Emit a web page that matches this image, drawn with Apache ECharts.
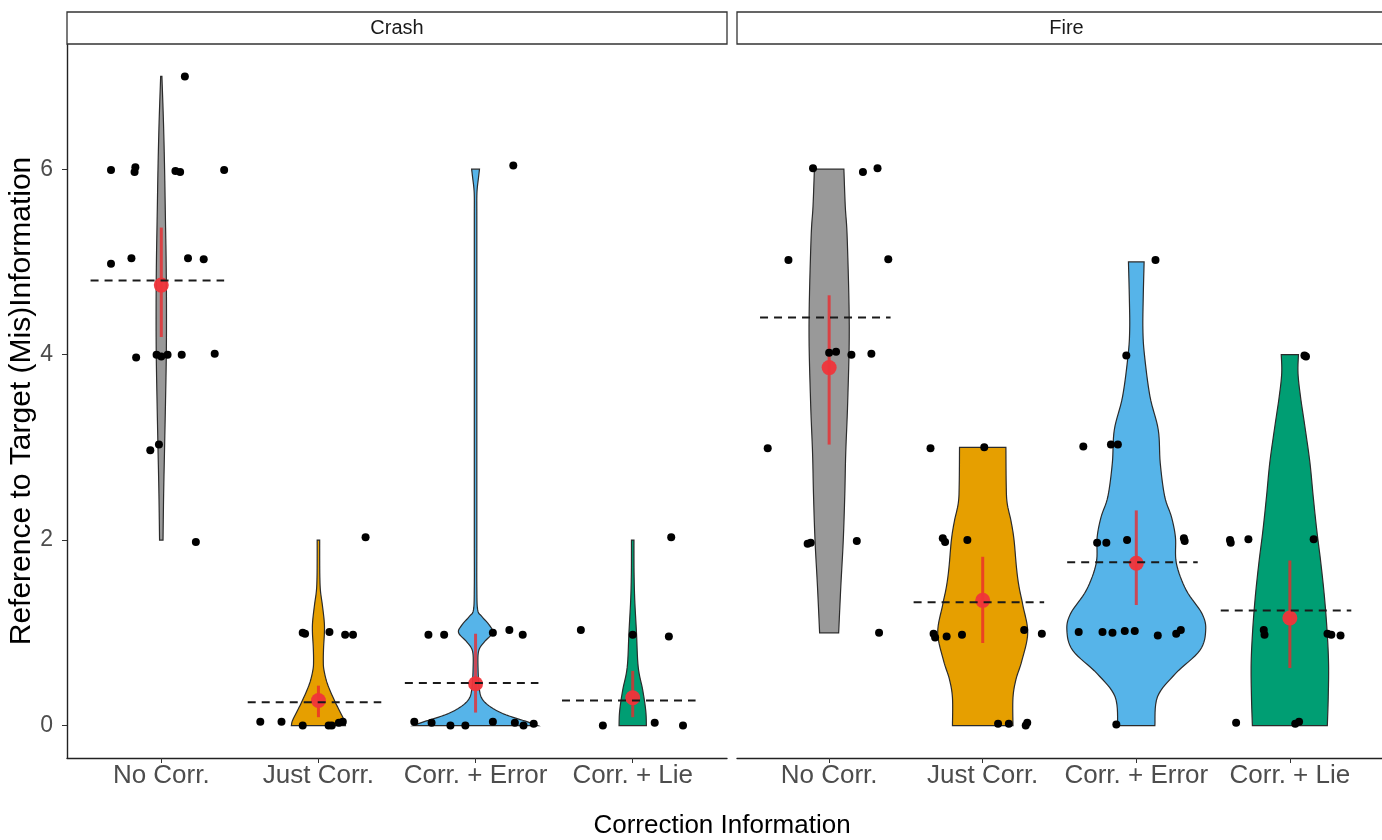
<!DOCTYPE html>
<html>
<head>
<meta charset="utf-8">
<script src="https://cdn.jsdelivr.net/npm/echarts@6/dist/echarts.min.js"></script>
<style>
html,body{margin:0;padding:0;background:#fff;}
#chart{width:1382px;height:840px;}
</style>
</head>
<body>
<div id="chart"></div>
<script>
// ---------------- DATA ----------------
const categories = ['No Corr.', 'Just Corr.', 'Corr. + Error', 'Corr. + Lie'];
const panels = ['Crash', 'Fire'];
const yTicks = [0, 2, 4, 6];
const xTitle = 'Correction Information';
const yTitle = 'Reference to Target (Mis)Information';

// jittered raw responses: [x offset from category centre (category units), value]
const crashNoCorrPts = [[0.15,7.0],[-0.32,5.99],[-0.165,6.02],[-0.17,5.97],[0.09,5.98],[0.12,5.97],[0.40,5.99],[-0.32,4.98],[-0.19,5.04],[0.17,5.04],[0.27,5.03],[-0.16,3.97],[-0.03,4.0],[0.0,3.98],[0.04,4.0],[0.13,4.0],[0.34,4.01],[-0.07,2.97],[-0.015,3.03],[0.22,1.98]];
const crashJustPts = [[0.30,2.03],[-0.10,1.0],[-0.085,0.99],[0.07,1.01],[0.17,0.98],[0.22,0.98],[-0.37,0.04],[-0.235,0.04],[-0.10,0.0],[0.065,0.0],[0.085,0.0],[0.13,0.03],[0.155,0.04]];
const crashErrPts = [[0.24,6.04],[-0.30,0.98],[-0.20,0.98],[0.11,1.0],[0.215,1.03],[0.30,0.98],[-0.39,0.04],[-0.28,0.03],[-0.16,0.0],[-0.065,0.0],[0.11,0.04],[0.25,0.03],[0.305,0.0],[0.37,0.02]];
const crashLiePts = [[0.245,2.03],[-0.33,1.03],[0.0,0.98],[0.23,0.96],[-0.19,0.0],[0.14,0.03],[0.32,0.0]];
const fireNoCorrPts = [[-0.105,6.01],[0.22,5.97],[0.315,6.01],[-0.265,5.02],[0.385,5.03],[0.0,4.02],[0.045,4.03],[0.145,4.0],[0.275,4.01],[-0.40,2.99],[-0.14,1.96],[-0.12,1.97],[0.18,1.99],[0.325,1.0]];
const fireJustPts = [[-0.34,2.99],[0.01,3.0],[-0.26,2.02],[-0.245,1.98],[-0.10,2.0],[-0.32,0.99],[-0.31,0.95],[-0.235,0.96],[-0.135,0.98],[0.27,1.03],[0.385,0.99],[0.10,0.02],[0.17,0.02],[0.28,0.0],[0.29,0.03]];
const fireErrPts = [[0.125,5.02],[-0.065,3.99],[-0.345,3.01],[-0.165,3.03],[-0.12,3.03],[-0.255,1.97],[-0.195,1.97],[-0.06,2.0],[0.31,2.02],[0.315,1.99],[-0.375,1.01],[-0.22,1.01],[-0.155,1.0],[-0.075,1.02],[-0.01,1.02],[0.14,0.97],[0.26,0.99],[0.29,1.03],[-0.13,0.01]];
const fireLiePts = [[0.105,3.98],[0.095,3.99],[-0.39,2.0],[-0.385,1.97],[-0.27,2.01],[0.155,2.01],[-0.17,1.03],[-0.165,0.98],[0.245,0.99],[0.27,0.98],[0.33,0.97],[-0.35,0.03],[0.035,0.02],[0.06,0.04]];

// violin density profiles: [value, half width (category units)]
const crashNoCorrViolin = [[2,0.011],[2.5,0.015],[3,0.021],[3.5,0.027],[4,0.032],[4.5,0.033],[5,0.031],[5.5,0.026],[6,0.021],[6.5,0.014],[7,0.004]];
const crashJustViolin = [[0,0.172],[0.05,0.166],[0.13,0.143],[0.27,0.102],[0.45,0.057],[0.6,0.035],[0.7,0.031],[0.85,0.033],[1.0,0.038],[1.12,0.037],[1.3,0.025],[1.45,0.013],[1.6,0.009],[1.8,0.008],[2,0.008]];
const crashErrViolin = [[0,0.395],[0.04,0.331],[0.08,0.255],[0.13,0.172],[0.2,0.096],[0.28,0.045],[0.38,0.025],[0.6,0.016],[0.8,0.019],[0.9,0.055],[1.0,0.108],[1.08,0.089],[1.18,0.038],[1.25,0.013],[1.5,0.008],[2,0.008],[3,0.008],[4,0.008],[5,0.008],[5.5,0.008],[5.7,0.008],[5.8,0.011],[5.9,0.018],[6,0.025]];
const crashLieViolin = [[0,0.087],[0.16,0.083],[0.38,0.064],[0.63,0.035],[1.0,0.024],[1.35,0.013],[1.6,0.009],[1.8,0.008],[2,0.008]];
const fireNoCorrViolin = [[1,0.062],[1.5,0.076],[2,0.092],[2.5,0.102],[2.94,0.108],[3.5,0.121],[4.3,0.131],[5.24,0.118],[5.6,0.105],[6,0.096]];
const fireJustViolin = [[0,0.197],[0.3,0.197],[0.5,0.217],[0.7,0.255],[1.0,0.293],[1.3,0.261],[1.5,0.236],[1.7,0.220],[2.0,0.204],[2.2,0.185],[2.4,0.159],[2.6,0.153],[3,0.151]];
const fireErrViolin = [[0,0.121],[0.31,0.138],[0.56,0.255],[0.81,0.414],[1.03,0.452],[1.21,0.427],[1.46,0.325],[1.75,0.261],[2.03,0.255],[2.25,0.229],[2.47,0.185],[2.83,0.156],[3.19,0.143],[3.55,0.089],[4.0,0.053],[4.27,0.043],[4.6,0.045],[5,0.051]];
const fireLieViolin = [[0,0.244],[0.31,0.250],[0.67,0.252],[1.03,0.242],[1.39,0.225],[1.75,0.202],[2.11,0.175],[2.47,0.152],[2.83,0.131],[3.19,0.101],[3.55,0.069],[3.8,0.053],[4,0.056]];

// sample means (dashed lines)
const crashMeans = [4.80, 0.25, 0.46, 0.27];
const fireMeans = [4.40, 1.33, 1.76, 1.24];
// model estimates with intervals: [estimate, lower, upper]
const crashEstimates = [[4.75,4.19,5.37],[0.27,0.09,0.43],[0.45,0.14,0.99],[0.30,0.09,0.59]];
const fireEstimates = [[3.86,3.03,4.64],[1.35,0.89,1.82],[1.75,1.30,2.32],[1.16,0.62,1.78]];

// ---------------- STYLE / BUILD ----------------
const fills = ['#999999', '#E69F00', '#56B4E9', '#009E73'];
const FONT = '"Liberation Sans", Arial, Helvetica, sans-serif';
const panelData = [
  {pts:[crashNoCorrPts,crashJustPts,crashErrPts,crashLiePts], vio:[crashNoCorrViolin,crashJustViolin,crashErrViolin,crashLieViolin], means:crashMeans, est:crashEstimates},
  {pts:[fireNoCorrPts,fireJustPts,fireErrPts,fireLiePts], vio:[fireNoCorrViolin,fireJustViolin,fireErrViolin,fireLieViolin], means:fireMeans, est:fireEstimates}
];

const grids = [
  {left: 67, top: 44, width: 660, height: 714},
  {left: 737, top: 44, width: 659, height: 714}
];

// Catmull-Rom smoothing of an outline (pixel space, rendering only)
function smoothPath(pts, steps) {
  if (pts.length < 3) return pts;
  const out = [];
  for (let i = 0; i < pts.length - 1; i++) {
    const p0 = pts[Math.max(i - 1, 0)], p1 = pts[i], p2 = pts[i + 1], p3 = pts[Math.min(i + 2, pts.length - 1)];
    for (let s = 0; s < steps; s++) {
      const t = s / steps, t2 = t * t, t3 = t2 * t;
      const f = (a, b, c, d) => 0.5 * ((2 * b) + (-a + c) * t + (2 * a - 5 * b + 4 * c - d) * t2 + (-a + 3 * b - 3 * c + d) * t3);
      out.push([f(p0[0], p1[0], p2[0], p3[0]), f(p0[1], p1[1], p2[1], p3[1])]);
    }
  }
  out.push(pts[pts.length - 1]);
  return out;
}

const xAxes = grids.map((g, i) => ({
  type: 'value', gridIndex: i, min: -0.6, max: 3.6,
  axisLine: {show: true, onZero: false, lineStyle: {color: '#222', width: 1.4}},
  axisTick: {show: true, customValues: [0,1,2,3], length: 5, lineStyle: {color: '#333', width: 1}},
  axisLabel: {show: true, customValues: [0,1,2,3], formatter: v => categories[Math.round(v)] || '',
    fontFamily: FONT, fontSize: 26, color: '#4d4d4d', margin: 5},
  splitLine: {show: false}
}));

const yAxes = grids.map((g, i) => ({
  type: 'value', gridIndex: i, min: -0.35, max: 7.35,
  axisLine: {show: i === 0, onZero: false, lineStyle: {color: '#222', width: 1.4}},
  axisTick: {show: i === 0, customValues: yTicks, length: 5, lineStyle: {color: '#333', width: 1}},
  axisLabel: {show: i === 0, customValues: yTicks, fontFamily: FONT, fontSize: 23, color: '#4d4d4d', margin: 14},
  splitLine: {show: false},
  name: i === 0 ? yTitle : '',
  nameLocation: 'middle', nameGap: 16, nameRotate: 90,
  nameTextStyle: {fontFamily: FONT, fontSize: 30, color: '#000'}
}));

const series = [];
panelData.forEach((pd, pi) => {
  // violins
  series.push({
    type: 'custom', xAxisIndex: pi, yAxisIndex: pi, z: 1, silent: true,
    data: categories.map((c, ci) => [ci, 0]),
    renderItem: (params, api) => {
      const ci = api.value(0);
      const prof = pd.vio[ci];
      const right = smoothPath(prof.map(p => api.coord([ci + p[1], p[0]])), 8);
      const left = smoothPath(prof.slice().reverse().map(p => api.coord([ci - p[1], p[0]])), 8);
      return {type: 'polygon', shape: {points: right.concat(left)},
        style: {fill: fills[ci], stroke: '#2b2b2b', lineWidth: 1.2}};
    }
  });
  // error bars
  series.push({
    type: 'custom', xAxisIndex: pi, yAxisIndex: pi, z: 2, silent: true,
    data: pd.est.map((e, ci) => [ci, e[1], e[2]]),
    renderItem: (params, api) => {
      const ci = api.value(0);
      const a = api.coord([ci, api.value(1)]);
      const b = api.coord([ci, api.value(2)]);
      return {type: 'line', shape: {x1: a[0], y1: a[1], x2: b[0], y2: b[1]},
        style: {stroke: 'rgba(236,40,44,0.78)', lineWidth: 3}};
    }
  });
  // estimate points
  series.push({
    type: 'scatter', xAxisIndex: pi, yAxisIndex: pi, z: 3, silent: true,
    symbolSize: 15, itemStyle: {color: '#F0343A', opacity: 0.95},
    data: pd.est.map((e, ci) => [ci, e[0]])
  });
  // mean dashed lines
  series.push({
    type: 'custom', xAxisIndex: pi, yAxisIndex: pi, z: 4, silent: true,
    data: pd.means.map((m, ci) => [ci, m]),
    renderItem: (params, api) => {
      const ci = api.value(0);
      const a = api.coord([ci - 0.45, api.value(1)]);
      const b = api.coord([ci + 0.40, api.value(1)]);
      return {type: 'line', shape: {x1: a[0], y1: a[1], x2: b[0], y2: b[1]},
        style: {stroke: '#1a1a1a', lineWidth: 2, lineDash: [8, 6]}};
    }
  });
  // raw points
  const pts = [];
  pd.pts.forEach((arr, ci) => arr.forEach(p => pts.push([ci + p[0], p[1]])));
  series.push({
    type: 'scatter', xAxisIndex: pi, yAxisIndex: pi, z: 5, silent: true,
    symbolSize: 8, itemStyle: {color: '#000', opacity: 1}, data: pts
  });
});

const graphics = [];
grids.forEach((g, i) => {
  graphics.push({type: 'rect', silent: true, z: 10,
    shape: {x: g.left, y: 12, width: g.width, height: 32},
    style: {fill: '#fff', stroke: '#333', lineWidth: 1.3}});
  graphics.push({type: 'text', silent: true, z: 11,
    x: g.left + g.width / 2, y: 28,
    style: {text: panels[i], fontFamily: FONT, fontSize: 20, fill: '#1a1a1a', align: 'center', verticalAlign: 'middle'}});
});
graphics.push({type: 'text', silent: true, x: 722, y: 826,
  style: {text: xTitle, fontFamily: FONT, fontSize: 26, fill: '#000', align: 'center', verticalAlign: 'middle'}});

const chart = echarts.init(document.getElementById('chart'), null, {renderer: 'canvas'});
chart.setOption({
  animation: false,
  backgroundColor: '#fff',
  grid: grids,
  xAxis: xAxes,
  yAxis: yAxes,
  series: series,
  graphic: graphics
});
</script>
</body>
</html>
